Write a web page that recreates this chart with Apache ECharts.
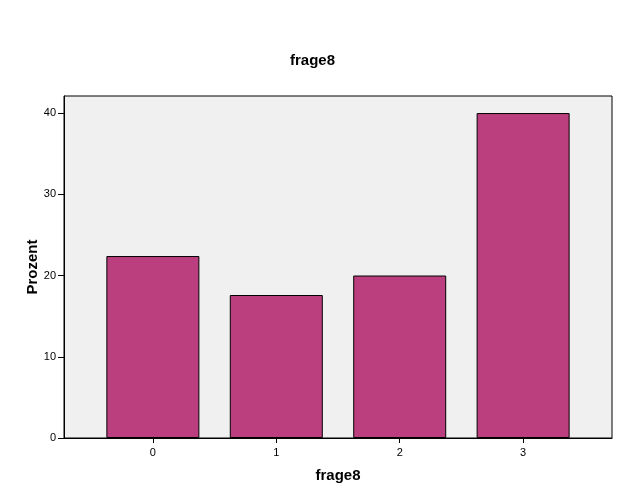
<!DOCTYPE html>
<html>
<head>
<meta charset="utf-8">
<script src="https://cdn.jsdelivr.net/npm/echarts@6/dist/echarts.min.js"></script>
<style>html,body{margin:0;padding:0;background:#fff}#c{width:625px;height:500px}</style>
</head>
<body>
<div id="c"></div>
<script>
var categories = [0, 1, 2, 3];
var percentValues = [22.4, 17.6, 20, 40];
var yTicks = [0, 10, 20, 30, 40];

var font = 'Arial, "Liberation Sans", sans-serif';
var chart = echarts.init(document.getElementById('c'), null, {renderer: 'canvas'});
chart.setOption({
  animation: false,
  title: {
    text: 'frage8', left: 'center', top: 48,
    textStyle: {fontFamily: font, fontSize: 15, fontWeight: 'bold', color: '#000'}
  },
  grid: {
    left: 64, top: 96, right: 13, bottom: 62,
    show: true, backgroundColor: '#f0f0f0', borderColor: '#000', borderWidth: 1
  },
  xAxis: {
    type: 'value', min: -0.72, max: 3.72,
    name: 'frage8', nameLocation: 'middle', nameGap: 30, nameMoveOverlap: false,
    nameTextStyle: {fontFamily: font, fontSize: 15, fontWeight: 'bold', color: '#000'},
    axisLine: {show: true, onZero: false, lineStyle: {color: '#000', width: 1}},
    axisTick: {show: true, length: 5, lineStyle: {color: '#000'}, customValues: categories},
    axisLabel: {fontFamily: font, fontSize: 11, color: '#000', margin: 9, customValues: categories},
    splitLine: {show: false}
  },
  yAxis: {
    type: 'value', min: 0, max: 42.1,
    name: 'Prozent', nameLocation: 'middle', nameGap: 24, nameMoveOverlap: false,
    nameTextStyle: {fontFamily: font, fontSize: 15, fontWeight: 'bold', color: '#000'},
    axisLine: {show: true, onZero: false, lineStyle: {color: '#000', width: 1}},
    axisTick: {show: true, length: 6, lineStyle: {color: '#000'}, customValues: yTicks},
    axisLabel: {fontFamily: font, fontSize: 11, color: '#000', margin: 8, customValues: yTicks},
    splitLine: {show: false}
  },
  series: [{
    type: 'bar',
    barWidth: 93,
    data: categories.map(function (c, i) { return [c, percentValues[i]]; }),
    itemStyle: {color: '#bb3f7e', borderColor: '#000', borderWidth: 1}
  }]
});
</script>
</body>
</html>
